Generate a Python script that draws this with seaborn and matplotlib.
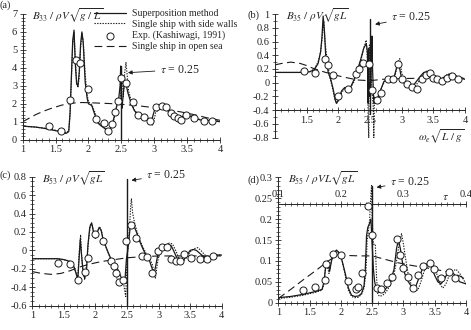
import matplotlib
matplotlib.use('Agg')
import matplotlib.pyplot as plt
import seaborn as sns
from matplotlib.ticker import MultipleLocator, AutoMinorLocator, FuncFormatter

# ---------------- (a) B33 ----------------
a_sup_x = [1.0, 1.1, 1.2, 1.3, 1.4, 1.5, 1.6, 1.66, 1.70, 1.72, 1.74, 1.76, 1.78, 1.80, 1.82, 1.84, 1.86, 1.88, 1.90, 1.92,
           1.95, 1.98, 2.0, 2.05, 2.1, 2.15, 2.2, 2.25, 2.3, 2.35, 2.4, 2.43, 2.46, 2.48, 2.49, 2.50, 2.51, 2.53, 2.55, 2.57,
           2.6, 2.65, 2.7, 2.8, 2.9, 2.95, 3.0, 3.05, 3.1, 3.15, 3.2, 3.25, 3.3, 3.35, 3.4, 3.45, 3.5, 3.55, 3.6, 3.7,
           3.8, 3.9, 4.0]
a_sup_y = [0.75, 0.73, 0.70, 0.65, 0.58, 0.50, 0.42, 0.35, 0.45, 1.5, 3.5, 5.5, 6.1, 4.2, 3.1, 3.0, 3.8, 5.3, 6.0, 5.4,
           3.2, 2.3, 2.0, 1.9, 1.35, 0.9, 0.75, 0.62, 0.52, 0.7, 1.4, 1.9, 2.3, 3.0, 4.1, 2.0, 1.75, 2.6, 3.3, 3.1,
           2.6, 2.0, 1.6, 1.35, 1.2, 0.95, 1.6, 1.8, 1.85, 1.8, 1.65, 1.4, 1.2, 1.15, 1.2, 1.35, 1.42, 1.3, 1.2, 1.1,
           1.08, 1.05, 1.0]
a_wall_x = [1.0, 1.2, 1.4, 1.6, 1.66, 1.70, 1.72, 1.74, 1.76, 1.78, 1.80, 1.82, 1.84, 1.86, 1.88, 1.90, 1.92, 1.95, 1.98, 2.0,
            2.05, 2.1, 2.15, 2.2, 2.25, 2.3, 2.32, 2.35, 2.38, 2.42, 2.45, 2.47, 2.49, 2.51, 2.53, 2.55, 2.57, 2.59, 2.61, 2.64,
            2.68, 2.72, 2.8, 2.9, 2.94, 2.98, 3.02, 3.08, 3.13, 3.18, 3.23, 3.28, 3.33, 3.38, 3.43, 3.48, 3.53, 3.58, 3.63, 3.7,
            3.8, 3.9, 4.0]
a_wall_y = [0.75, 0.70, 0.6, 0.45, 0.38, 0.5, 1.4, 3.3, 5.3, 6.0, 4.5, 3.2, 2.9, 3.5, 5.1, 5.9, 5.5, 3.6, 2.5, 2.1,
            1.95, 1.5, 1.0, 0.8, 0.6, 0.45, 0.4, 0.55, 1.0, 1.7, 2.2, 2.0, 2.6, 3.6, 2.4, 3.7, 4.3, 3.5, 2.7, 2.3,
            1.8, 1.5, 1.35, 1.15, 0.9, 0.8, 1.5, 1.75, 1.8, 1.78, 1.65, 1.4, 1.2, 1.15, 1.25, 1.4, 1.42, 1.3, 1.2, 1.12,
            1.1, 1.08, 1.02]
a_sea_x = [1.0, 1.1, 1.2, 1.3, 1.4, 1.5, 1.6, 1.7, 1.8, 1.9, 2.0, 2.2, 2.4, 2.6, 2.8, 3.0, 3.2, 3.4, 3.6, 3.8, 4.0]
a_sea_y = [1.0, 1.2, 1.4, 1.56, 1.7, 1.82, 1.93, 2.0, 2.05, 2.07, 2.06, 2.03, 2.0, 1.94, 1.87, 1.78, 1.66, 1.55, 1.4, 1.22, 1.08]
a_exp_x = [1.40, 1.58, 1.72, 1.81, 1.87, 2.0, 2.12, 2.23, 2.29, 2.35, 2.40, 2.45, 2.50, 2.57, 2.67, 2.76, 2.85, 2.93, 3.02,
           3.11, 3.18, 3.25, 3.30, 3.36, 3.41, 3.48, 3.60, 3.75, 3.88]
a_exp_y = [0.78, 0.48, 2.21, 4.43, 4.25, 2.82, 1.17, 0.91, 0.48, 0.87, 1.52, 2.15, 3.45, 3.17, 2.1, 1.37, 1.28, 1.04, 1.8,
           1.87, 1.8, 1.47, 1.3, 1.22, 1.1, 1.35, 1.18, 1.05, 1.05]

# ---------------- (b) B35 ----------------
b_sup_x = [1.0, 1.2, 1.4, 1.55, 1.62, 1.68, 1.72, 1.74, 1.76, 1.78, 1.80, 1.84, 1.88, 1.92, 1.95, 1.97, 2.0, 2.05, 2.1, 2.15,
           2.2, 2.25, 2.3, 2.35, 2.4, 2.44, 2.46, 2.47, 2.48, 2.49, 2.50, 2.51, 2.52, 2.53, 2.54, 2.56, 2.58, 2.62, 2.67, 2.72,
           2.78, 2.84, 2.88, 2.92, 2.94, 2.97, 3.0, 3.05, 3.1, 3.15, 3.2, 3.25, 3.3, 3.35, 3.4, 3.45, 3.5, 3.55, 3.6, 3.65,
           3.7, 3.75, 3.8, 3.85, 3.9, 4.0]
b_sup_y = [0.15, 0.15, 0.15, 0.16, 0.19, 0.28, 0.45, 0.65, 0.97, 0.75, 0.4, 0.15, 0.05, -0.1, -0.25, -0.3, -0.25, -0.12, -0.07, -0.12,
           -0.05, 0.05, 0.18, 0.33, 0.5, 0.57, 0.45, -0.3, 0.5, -0.2, 0.0, -0.1, 0.3, 0.68, 0.2, -0.3, -0.28, -0.22, -0.1, 0.02,
           0.04, 0.02, 0.08, 0.22, 0.3, 0.2, 0.05, -0.02, -0.05, -0.06, -0.02, 0.04, 0.1, 0.15, 0.16, 0.12, 0.06, 0.03, 0.04, 0.07,
           0.1, 0.12, 0.11, 0.09, 0.07, 0.05]
b_wall_x = [1.0, 1.2, 1.4, 1.55, 1.62, 1.68, 1.72, 1.75, 1.77, 1.79, 1.82, 1.86, 1.90, 1.94, 1.97, 2.0, 2.05, 2.1, 2.15, 2.2,
            2.25, 2.3, 2.35, 2.4, 2.44, 2.46, 2.47, 2.48, 2.49, 2.51, 2.53, 2.55, 2.56, 2.57, 2.58, 2.60, 2.63, 2.68, 2.73, 2.8,
            2.86, 2.9, 2.94, 2.97, 3.0, 3.03, 3.08, 3.13, 3.18, 3.23, 3.28, 3.33, 3.38, 3.42, 3.47, 3.52, 3.57, 3.62, 3.67, 3.72,
            3.78, 3.83, 3.88, 3.93, 4.0]
b_wall_y = [0.15, 0.15, 0.15, 0.16, 0.2, 0.3, 0.45, 0.7, 0.9, 0.6, 0.35, 0.1, -0.05, -0.22, -0.3, -0.27, -0.15, -0.08, -0.1, -0.06,
            0.02, 0.15, 0.3, 0.5, 0.62, 0.3, -0.5, -0.8, 0.55, 0.3, -0.1, -0.35, -0.8, -0.2, -0.3, -0.28, -0.2, -0.08, 0.02, 0.05,
            0.03, 0.12, 0.3, 0.35, 0.15, 0.04, -0.03, -0.06, -0.07, -0.03, 0.03, 0.1, 0.16, 0.18, 0.14, 0.07, 0.03, 0.04, 0.08, 0.12,
            0.14, 0.12, 0.09, 0.07, 0.06]
b_sea_x = [1.0, 1.1, 1.25, 1.4, 1.5, 1.6, 1.7, 1.8, 1.9, 2.0, 2.1, 2.2, 2.3, 2.5, 2.7, 3.0, 3.5, 4.0]
b_sea_y = [0.26, 0.28, 0.30, 0.28, 0.25, 0.21, 0.18, 0.15, 0.13, 0.10, 0.08, 0.06, 0.04, 0.03, 0.05, 0.06, 0.07, 0.07]
b_exp_x = [1.46, 1.63, 1.79, 1.84, 1.92, 2.0, 2.16, 2.28, 2.33, 2.39, 2.48, 2.53, 2.61, 2.68, 2.78, 2.87, 2.94, 3.0, 3.08,
           3.16, 3.24, 3.32, 3.38, 3.44, 3.5, 3.55, 3.63, 3.72, 3.79, 3.89]
b_exp_y = [0.17, 0.14, 0.35, 0.26, 0.11, -0.19, -0.09, 0.12, 0.2, 0.28, 0.27, -0.1, -0.25, -0.15, 0.06, 0.05, 0.27, 0.05, -0.02,
           -0.06, -0.09, 0.05, 0.11, 0.14, 0.07, 0.05, 0.02, 0.07, 0.1, 0.05]

# ---------------- (c) B53 ----------------
c_sup_x = [1.0, 1.2, 1.4, 1.5, 1.6, 1.65, 1.69, 1.72, 1.74, 1.76, 1.78, 1.80, 1.83, 1.86, 1.88, 1.91, 1.94, 1.97, 2.0, 2.03,
           2.06, 2.09, 2.12, 2.16, 2.2, 2.25, 2.3, 2.35, 2.4, 2.44, 2.47, 2.49, 2.50, 2.52, 2.55, 2.58, 2.62, 2.66, 2.7, 2.75,
           2.8, 2.85, 2.9, 2.93, 2.96, 3.0, 3.05, 3.1, 3.15, 3.2, 3.25, 3.3, 3.35, 3.4, 3.45, 3.5, 3.55, 3.6, 3.65, 3.7,
           3.75, 3.8, 3.85, 3.9, 4.0]
c_sup_y = [-0.09, -0.09, -0.09, -0.1, -0.12, -0.16, -0.24, -0.32, -0.1, 0.12, -0.05, -0.2, -0.3, -0.2, 0.05, 0.25, 0.3, 0.2, 0.13, 0.2,
           0.25, 0.22, 0.12, 0.05, -0.02, -0.1, -0.15, -0.2, -0.28, -0.35, -0.3, -0.1, -0.05, 0.05, 0.25, 0.28, 0.25, 0.18, 0.1, 0.02,
           -0.05, -0.1, -0.2, -0.25, -0.15, 0.0, 0.03, 0.05, 0.07, 0.05, -0.02, -0.1, -0.12, -0.1, -0.05, 0.0, 0.01, 0.0, -0.03, -0.06,
           -0.08, -0.07, -0.05, -0.05, -0.05]
c_wall_x = [1.0, 1.2, 1.4, 1.5, 1.6, 1.65, 1.69, 1.72, 1.74, 1.765, 1.78, 1.80, 1.83, 1.86, 1.89, 1.92, 1.95, 1.98, 2.01, 2.04,
            2.07, 2.10, 2.13, 2.17, 2.21, 2.26, 2.3, 2.34, 2.38, 2.42, 2.45, 2.48, 2.50, 2.52, 2.54, 2.56, 2.57, 2.59, 2.62, 2.66,
            2.7, 2.75, 2.8, 2.85, 2.9, 2.93, 2.95, 2.98, 3.02, 3.07, 3.12, 3.17, 3.22, 3.27, 3.32, 3.37, 3.42, 3.47, 3.52, 3.57,
            3.62, 3.67, 3.72, 3.77, 3.82, 3.87, 3.92, 4.0]
c_wall_y = [-0.09, -0.09, -0.09, -0.1, -0.12, -0.16, -0.24, -0.3, -0.05, 0.17, -0.05, -0.22, -0.32, -0.15, 0.1, 0.28, 0.27, 0.16, 0.14, 0.22,
            0.25, 0.2, 0.1, 0.03, -0.04, -0.12, -0.2, -0.3, -0.35, -0.3, -0.38, -0.5, -0.1, 0.05, 0.25, 0.5, 0.56, 0.4, 0.3, 0.2,
            0.12, 0.04, -0.03, -0.08, -0.15, -0.25, -0.3, -0.15, 0.0, 0.03, 0.06, 0.08, 0.07, 0.0, -0.08, -0.12, -0.1, -0.05, 0.0, 0.02,
            0.03, 0.0, -0.04, -0.07, -0.08, -0.06, -0.05, -0.05]
c_sea_x = [1.0, 1.15, 1.3, 1.45, 1.6, 1.75, 1.9, 2.1, 2.3, 2.5, 2.7, 3.0, 3.5, 4.0]
c_sea_y = [-0.23, -0.25, -0.26, -0.25, -0.22, -0.18, -0.15, -0.12, -0.1, -0.08, -0.07, -0.06, -0.06, -0.06]
c_exp_x = [1.41, 1.59, 1.73, 1.83, 1.88, 2.0, 2.12, 2.24, 2.29, 2.33, 2.38, 2.44, 2.49, 2.56, 2.65, 2.73, 2.82, 2.90, 2.99,
           3.06, 3.13, 3.20, 3.28, 3.34, 3.40, 3.52, 3.65, 3.77, 3.86]
c_exp_y = [-0.14, -0.15, -0.32, -0.23, -0.08, 0.18, 0.10, -0.11, -0.17, -0.24, -0.34, -0.32, 0.10, 0.28, 0.14, -0.06, -0.07, -0.24, -0.01,
           0.04, 0.04, -0.09, -0.12, -0.12, -0.04, -0.08, -0.09, -0.09, -0.06]

# ---------------- (d) B55 ----------------
d_sup_x = [1.0, 1.2, 1.4, 1.6, 1.7, 1.73, 1.76, 1.79, 1.82, 1.85, 1.88, 1.93, 1.98, 2.02, 2.07, 2.12, 2.17, 2.22, 2.28, 2.33,
           2.37, 2.39, 2.41, 2.43, 2.46, 2.48, 2.50, 2.52, 2.54, 2.57, 2.6, 2.65, 2.7, 2.75, 2.8, 2.85, 2.89, 2.92, 2.95, 2.98,
           3.02, 3.06, 3.1, 3.15, 3.2, 3.25, 3.3, 3.35, 3.4, 3.45, 3.5, 3.55, 3.6, 3.65, 3.7, 3.75, 3.8, 3.85, 3.9, 4.0]
d_sup_y = [0.012, 0.015, 0.02, 0.027, 0.032, 0.05, 0.09, 0.1, 0.075, 0.1, 0.115, 0.126, 0.118, 0.1, 0.07, 0.035, 0.018, 0.015, 0.016, 0.022,
           0.04, 0.08, 0.16, 0.18, 0.19, 0.2, 0.14, 0.08, 0.05, 0.03, 0.025, 0.025, 0.03, 0.04, 0.055, 0.08, 0.13, 0.15, 0.13, 0.1,
           0.07, 0.055, 0.045, 0.035, 0.04, 0.06, 0.08, 0.09, 0.095, 0.085, 0.065, 0.05, 0.045, 0.055, 0.07, 0.075, 0.07, 0.06, 0.05, 0.045]
d_wall_x = [1.0, 1.2, 1.4, 1.6, 1.7, 1.73, 1.76, 1.78, 1.81, 1.84, 1.87, 1.92, 1.97, 2.02, 2.07, 2.12, 2.17, 2.22, 2.28, 2.33,
            2.37, 2.40, 2.42, 2.44, 2.46, 2.48, 2.49, 2.50, 2.52, 2.55, 2.57, 2.59, 2.62, 2.67, 2.72, 2.78, 2.84, 2.89, 2.93, 2.97,
            3.0, 3.04, 3.08, 3.13, 3.18, 3.23, 3.28, 3.33, 3.38, 3.43, 3.48, 3.53, 3.58, 3.63, 3.68, 3.73, 3.78, 3.84, 3.9, 4.0]
d_wall_y = [0.01, 0.013, 0.018, 0.025, 0.03, 0.045, 0.095, 0.09, 0.07, 0.095, 0.115, 0.124, 0.12, 0.1, 0.065, 0.03, 0.015, 0.012, 0.013, 0.02,
            0.035, 0.07, 0.15, 0.17, 0.2, 0.26, 0.28, 0.2, 0.14, 0.14, 0.06, 0.02, 0.015, 0.018, 0.025, 0.04, 0.06, 0.1, 0.14, 0.165,
            0.14, 0.1, 0.065, 0.04, 0.03, 0.03, 0.05, 0.075, 0.09, 0.1, 0.09, 0.07, 0.045, 0.035, 0.045, 0.065, 0.075, 0.08, 0.07, 0.045]
d_sea_x = [1.0, 1.2, 1.4, 1.6, 1.8, 1.95, 2.1, 2.3, 2.5, 2.7, 2.9, 3.1, 3.3, 3.5, 3.7, 3.9, 4.0]
d_sea_y = [0.01, 0.032, 0.055, 0.077, 0.1, 0.115, 0.113, 0.112, 0.112, 0.104, 0.096, 0.09, 0.085, 0.08, 0.074, 0.064, 0.055]
d_exp_x = [1.40, 1.59, 1.74, 1.76, 1.87, 2.0, 2.12, 2.24, 2.28, 2.33, 2.44, 2.49, 2.57, 2.64, 2.73, 2.81, 2.89, 2.94, 3.0,
           3.08, 3.16, 3.23, 3.32, 3.42, 3.49, 3.6, 3.73, 3.82]
d_exp_y = [0.030, 0.038, 0.054, 0.093, 0.116, 0.114, 0.053, 0.032, 0.038, 0.07, 0.231, 0.162, 0.036, 0.032, 0.046, 0.062, 0.152, 0.114, 0.082,
           0.062, 0.036, 0.066, 0.089, 0.094, 0.08, 0.058, 0.074, 0.058]

legend_labels = ['Superposition method', 'Single ship with side walls',
                 'Exp. (Kashiwagi, 1991)', 'Single ship in open sea']

# tau = 0.25 marker line: x position and vertical extent per panel
tau_x = 2.5
tau_span = {'a': (0.0, 4.1), 'b': (-0.45, 0.93), 'c': (-0.6, 0.77), 'd': (0.0, 0.28)}

sns.set_theme(style='ticks')
plt.rcParams['font.family'] = ['Liberation Serif', 'DejaVu Serif']
plt.rcParams['mathtext.fontset'] = 'stix'
plt.rcParams['axes.unicode_minus'] = False
plt.rcParams['axes.linewidth'] = 0.7

fig = plt.figure(figsize=(4.71, 3.30), dpi=100)
ax_a = fig.add_axes([0.0482, 0.5767, 0.419, 0.381])
ax_b = fig.add_axes([0.5839, 0.5827, 0.4034, 0.3748])
ax_c = fig.add_axes([0.0686, 0.0736, 0.4021, 0.391])
ax_d = fig.add_axes([0.5909, 0.0827, 0.3985, 0.380])

fmt = FuncFormatter(lambda v, p: f'{v:g}')
dash = (0, (7, 4))
dots = (0, (1.2, 1.2))


def draw(ax, sup, wall, sea, exp, key, labels=False):
    lab = (lambda i: legend_labels[i]) if labels else (lambda i: None)
    common = dict(ax=ax, color='k', estimator=None, sort=False)
    sns.lineplot(x=sup[0], y=sup[1], lw=0.9, label=lab(0), **common)
    sns.lineplot(x=wall[0], y=wall[1], lw=0.8, linestyle=dots, label=lab(1), **common)
    sns.lineplot(x=sea[0], y=sea[1], lw=0.8, linestyle=dash, label=lab(3), **common)
    sns.scatterplot(x=exp[0], y=exp[1], ax=ax, marker='o', s=26, color='white',
                    edgecolor='k', linewidth=0.7, zorder=5, label=lab(2))
    y0, y1 = tau_span[key]
    ax.plot([tau_x, tau_x], [y0, y1], color='k', lw=1.0, zorder=4)
    ax.set_xlim(1, 4)
    ax.xaxis.set_major_locator(MultipleLocator(0.5))
    ax.xaxis.set_minor_locator(AutoMinorLocator(5))
    ax.xaxis.set_major_formatter(fmt)
    ax.yaxis.set_major_formatter(fmt)
    for s in ['top', 'right']:
        ax.spines[s].set_visible(False)
    ax.tick_params(which='major', direction='inout', length=5, width=0.6, labelsize=7.5, pad=1.5)
    ax.tick_params(which='minor', direction='inout', length=3, width=0.5)
    ax.set_xlabel('')
    ax.set_ylabel('')
    if ax.get_legend() is not None and not labels:
        ax.get_legend().remove()


arrow = dict(arrowstyle='-|>', color='k', lw=0.6, mutation_scale=6, shrinkA=1, shrinkB=0)

# (a)
draw(ax_a, (a_sup_x, a_sup_y), (a_wall_x, a_wall_y), (a_sea_x, a_sea_y), (a_exp_x, a_exp_y), 'a', labels=True)
ax_a.set_ylim(0, 7)
ax_a.yaxis.set_major_locator(MultipleLocator(1))
ax_a.yaxis.set_minor_locator(AutoMinorLocator(5))
h, l = ax_a.get_legend_handles_labels()
order = [l.index(t) for t in legend_labels]
ax_a.legend([h[i] for i in order], [l[i] for i in order], loc='upper left', bbox_to_anchor=(0.36, 1.04),
            frameon=False, fontsize=7, handlelength=3.3, handletextpad=0.6, labelspacing=0.2,
            borderpad=0, borderaxespad=0)
ax_a.text(0.045, 0.985, r'$B_{33}\ /\ \rho V\sqrt{g\ /\ L}$', transform=ax_a.transAxes, va='center', fontsize=8)
ax_a.annotate(r'$\tau$ = 0.25', xy=(2.6, 3.73), xytext=(3.08, 3.9), va='center', ha='left', fontsize=8.5,
              arrowprops=arrow)

# (b)
draw(ax_b, (b_sup_x, b_sup_y), (b_wall_x, b_wall_y), (b_sea_x, b_sea_y), (b_exp_x, b_exp_y), 'b')
ax_b.set_ylim(-0.8, 1.0)
ax_b.yaxis.set_major_locator(MultipleLocator(0.2))
ax_b.yaxis.set_minor_locator(AutoMinorLocator(2))
ax_b.spines['bottom'].set_position(('data', -0.4))
ax_b.xaxis.set_major_formatter(FuncFormatter(lambda v, p: '' if v == 1 else f'{v:g}'))
ax_b.text(0.06, 0.985, r'$B_{35}\ /\ \rho V\sqrt{gL}$', transform=ax_b.transAxes, va='center', fontsize=8)
ax_b.text(3.62, -0.78, r'$\omega_e\sqrt{L\ /\ g}$', ha='center', va='center', fontsize=8)
ax_b.annotate(r'$\tau$ = 0.25', xy=(2.58, 0.85), xytext=(2.83, 0.95), va='center', ha='left', fontsize=8.5,
              arrowprops=arrow)

# (c)
draw(ax_c, (c_sup_x, c_sup_y), (c_wall_x, c_wall_y), (c_sea_x, c_sea_y), (c_exp_x, c_exp_y), 'c')
ax_c.set_ylim(-0.6, 0.8)
ax_c.yaxis.set_major_locator(MultipleLocator(0.2))
ax_c.yaxis.set_minor_locator(AutoMinorLocator(4))
ax_c.text(0.05, 0.985, r'$B_{53}\ /\ \rho V\sqrt{gL}$', transform=ax_c.transAxes, va='center', fontsize=8)
ax_c.annotate(r'$\tau$ = 0.25', xy=(2.57, 0.76), xytext=(2.8, 0.82), va='center', ha='left', fontsize=8.5,
              arrowprops=arrow)

# (d)
draw(ax_d, (d_sup_x, d_sup_y), (d_wall_x, d_wall_y), (d_sea_x, d_sea_y), (d_exp_x, d_exp_y), 'd')
ax_d.set_ylim(0, 0.3)
ax_d.yaxis.set_major_locator(MultipleLocator(0.05))
ax_d.yaxis.set_minor_locator(AutoMinorLocator(5))
ax_d.text(0.05, 0.985, r'$B_{55}\ /\ \rho VL\sqrt{gL}$', transform=ax_d.transAxes, va='center', fontsize=8)
ax_d.annotate(r'$\tau$ = 0.25', xy=(2.57, 0.276), xytext=(2.78, 0.289), va='center', ha='left', fontsize=8.5,
              arrowprops=arrow)
sec = ax_d.secondary_xaxis(0.235 / 0.3, functions=(lambda x: x / 10, lambda t: t * 10))
sec.xaxis.set_major_locator(MultipleLocator(0.1))
sec.xaxis.set_minor_locator(AutoMinorLocator(10))
sec.xaxis.set_major_formatter(fmt)
sec.spines['top'].set_linewidth(0.7)
sec.tick_params(which='major', direction='inout', length=5, width=0.6, labelsize=7.5, pad=1.5)
sec.tick_params(which='minor', direction='inout', length=3, width=0.5)
ax_d.text(3.68, 0.252, r'$\tau$', ha='center', va='center', fontsize=8.5)

fig.text(0.0, 0.985, '(a)', fontsize=7.5, va='center')
fig.text(0.525, 0.955, '(b)', fontsize=7.5, va='center')
fig.text(0.0, 0.47, '(c)', fontsize=7.5, va='center')
fig.text(0.525, 0.455, '(d)', fontsize=7.5, va='center')

fig.savefig('out.png', dpi=100)
